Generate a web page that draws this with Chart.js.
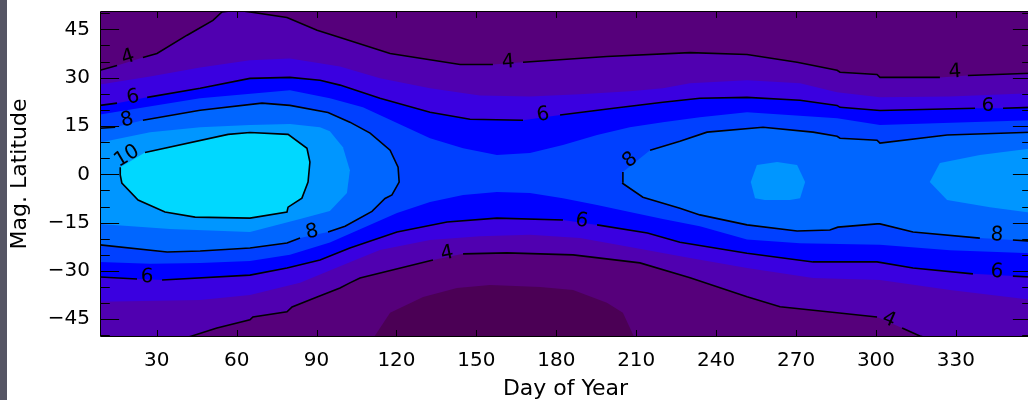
<!DOCTYPE html>
<html>
<head>
<meta charset="utf-8">
<script src="https://cdn.jsdelivr.net/npm/chart.js@4.4.1/dist/chart.umd.min.js"></script>
<style>
  html, body { margin: 0; padding: 0; background: #fff; overflow: hidden; }
  #wrap { position: absolute; left: 0; top: 0; width: 1040px; height: 400px; }
  #edge { position: absolute; left: 0; top: 0; width: 7px; height: 400px; background: #555564; }
</style>
</head>
<body>
<div id="wrap"><canvas id="chart" width="1040" height="400"></canvas></div>
<div id="edge"></div>
<script>
// Day of year vs. magnetic latitude contour map. Each band is a closed
// line shape (fill: 'shape') painted from the lowest level up; the even
// levels are stroked on top and labelled in-line like the IDL original.

// contour boundaries, as [day, mag. latitude]
const c4North = [[8.7, 32.3], [15.1, 33.8], [24.8, 36.3], [30.1, 37.5], [41.4, 43.2], [51.1, 47.8],
  [54.5, 50.4], [60, 51], [65.0, 50.4], [78.9, 48.7], [90.2, 44.7], [98.8, 42.5], [117.6, 37.5],
  [143.9, 34.1], [156.2, 34.1], [167.5, 34.8], [199.0, 36.6], [230.2, 37.8], [251.6, 37.2],
  [270.4, 34.8], [285.4, 32.3], [286.5, 31.7], [300.4, 31.0], [301.5, 30.1], [324.0, 30.1],
  [334.5, 30.7], [359, 31.4]];
const c4South = [[8.7, -51], [40, -51], [43.2, -50.2], [52.6, -47.7], [65.0, -45.2], [66.1, -44.3],
  [78.9, -42.7], [80.8, -41.2], [90.2, -38.1], [98.8, -35.3], [102.5, -33.7], [106.3, -32.2],
  [133.7, -26.6], [145.0, -24.7], [161.5, -24.4], [186.3, -25.0], [211.4, -27.5], [230.2, -32.1],
  [251.6, -38.0], [264.0, -41.1], [285.4, -43.0], [300.4, -44.3], [309.8, -47.7], [316.5, -50.2],
  [320, -51], [359, -51]];
const c5North = [[8.7, 27.9], [27.5, 30.4], [46.3, 33.2], [65.0, 35.4], [80.0, 36.0], [98.8, 33.5],
  [113.8, 29.8], [132.6, 26.7], [151.3, 24.5], [170.1, 24.2], [188.9, 24.9], [207.6, 25.8],
  [220.0, 26.7], [230.2, 28.3], [251.6, 29.2], [271.5, 28.3], [285.4, 25.5], [301.5, 23.9],
  [327.8, 24.2], [359, 25.2]];
const c5South = [[8.7, -39.6], [46.3, -39.0], [65.0, -37.5], [83.8, -33.7], [102.5, -27.3],
  [113.8, -23.5], [132.6, -20.4], [151.3, -19.2], [170.1, -18.8], [188.9, -19.8], [207.6, -22.6],
  [230.2, -26.0], [251.6, -29.1], [276.4, -32.2], [301.5, -32.8], [327.8, -35.9], [359, -39.0]];
const c6North = [[8.7, 21.4], [15.1, 22.1], [26.4, 23.9], [46.3, 26.7], [65.0, 29.8], [80.0, 30.1],
  [91.3, 29.2], [98.8, 27.7], [113.8, 23.6], [132.6, 19.3], [147.6, 17.1], [167.5, 16.8],
  [181.4, 18.4], [201.5, 20.5], [220.0, 22.4], [233.9, 23.6], [251.6, 23.9], [271.5, 23.0],
  [285.4, 21.4], [286.5, 20.8], [301.5, 19.8], [337.2, 20.5], [347.7, 20.5], [359, 20.8]];
const c6South = [[8.7, -31.9], [22.6, -32.5], [32.0, -32.8], [65.0, -31.3], [78.9, -29.1],
  [91.3, -26.6], [102.5, -22.9], [120.2, -17.9], [139.0, -14.8], [157.7, -13.6], [182.5, -14.2],
  [195.3, -15.7], [214.2, -18.2], [226.4, -21.1], [251.6, -24.5], [276.4, -27.2], [300.4, -27.2],
  [313.9, -29.1], [336.4, -30.9], [351.4, -31.6], [359, -31.9]];
const c7North = [[8.7, 18.6], [46.3, 23.6], [80.0, 26.1], [95.0, 23.6], [107.4, 20.8], [120.2, 15.9],
  [132.6, 11.2], [145.0, 8.1], [157.7, 6.0], [170.1, 6.6], [182.5, 9.1], [195.3, 12.2],
  [207.6, 14.6], [220.0, 16.2], [233.9, 17.7], [251.6, 19.3], [285.4, 17.4], [301.5, 15.3],
  [359, 16.8]];
const c7South = [[8.7, -27.2], [27.5, -27.8], [46.3, -27.5], [65.0, -26.9], [80.0, -25.0],
  [95.0, -21.2], [107.4, -16.7], [120.2, -12.0], [132.6, -8.6], [145.0, -6.4], [157.7, -5.5],
  [170.1, -5.8], [182.5, -7.4], [195.3, -9.5], [207.6, -11.7], [220.0, -13.9], [233.9, -16.1],
  [251.6, -20.2], [271.5, -21.4], [301.5, -21.9], [327.8, -23.6], [359, -24.5]];
const c8Left = [[8.7, 14.3], [14.4, 14.6], [24.8, 16.8], [46.3, 19.9], [69.5, 22.1], [80.0, 21.4],
  [94.3, 19.2], [102.5, 16.2], [110.1, 12.8], [117.6, 7.5], [120.6, 2.2], [121.0, -2.4],
  [118.3, -6.4], [115.7, -7.5], [110.8, -11.5], [100.7, -16.1], [94.3, -17.9], [83.8, -19.8],
  [78.9, -21.3], [65.0, -22.9], [46.3, -23.8], [33.9, -24.1], [8.7, -21.9]];
const c8Right = [[204.7, -2.4], [205.0, 0.7], [215.2, 7.5], [226.4, 10.3], [236.6, 13.1],
  [257.6, 14.6], [276.4, 13.1], [285.4, 11.8], [286.5, 11.2], [300.4, 10.6], [301.5, 9.7],
  [326.7, 12.2], [359, 13.1], [359, -20.8], [351.4, -20.4], [339.0, -19.8], [313.9, -17.9],
  [301.5, -15.4], [300.4, -15.4], [285.7, -16.4], [282.7, -17.3], [270.4, -17.6], [251.6, -15.7],
  [233.9, -12.6], [226.4, -10.5], [212.5, -7.1], [204.7, -2.7]];
const c9Left = [[8.7, 9.9], [27.5, 13.1], [46.3, 14.6], [65.0, 15.3], [80.0, 15.6], [91.3, 14.6],
  [95.0, 13.4], [99.9, 8.4], [102.5, 1.3], [101.4, -5.8], [95.0, -11.4], [83.8, -13.9],
  [65.0, -17.9], [35.0, -17.0], [8.7, -15.4]];
const c9Small = [[253.0, -2.4], [255.3, 2.9], [262.9, 3.8], [270.4, 2.9], [273.4, -2.4],
  [271.5, -7.4], [267.7, -8.0], [258.3, -8.0], [254.6, -7.4]];
const c9Right = [[359, 8.1], [339.0, 6.0], [324.0, 3.5], [320.2, -2.4], [326.7, -8.0],
  [342.8, -10.2], [359, -12.0]];
const c10 = [[16.3, 2.2], [25.6, 6.8], [56.8, 12.4], [65.0, 13.0], [79.3, 12.4], [86.4, 8.1],
  [87.5, 3.8], [86.8, -2.4], [84.5, -7.4], [79.3, -10.2], [78.9, -11.7], [65.0, -13.6],
  [44.4, -13.3], [33.1, -11.7], [23.0, -8.0], [16.9, -2.7], [16.3, -0.2], [16.3, 2.2]];
const dome3 = [[111.2, -51], [117.6, -43.0], [130.0, -38.1], [142.7, -35.3], [155.1, -34.4],
  [173.9, -35.0], [186.3, -35.9], [199.0, -39.9], [205.0, -43.0], [209.5, -51]];

// where the in-line level labels sit, [day, mag. latitude]
const c4NorthLabels = [[19.2, 36.3], [161.9, 34.8], [329.7, 31.7]];
const c4SouthLabels = [[139.0, -24.6], [304.9, -45.2]];
const c6NorthLabels = [[21.1, 23.9], [175.0, 18.4], [342.0, 21.4]];
const c6SouthLabels = [[26.4, -31.9], [189.6, -14.5], [345.4, -30.3]];
const c8LeftLabels = [[18.9, 16.8], [88.3, -17.9]];
const c8RightLabels = [[207.7, 4.4], [345.4, -18.9]];
const c10Labels = [[18.8, 5.6]];

const xTicks = [30, 60, 90, 120, 150, 180, 210, 240, 270, 300, 330];
const yTicks = [-45, -30, -15, 0, 15, 30, 45];
const yMinorTicks = [-50, -40, -35, -25, -20, -10, -5, 5, 10, 20, 25, 35, 40, 50];

// <3, 3-4, 4-5, 5-6, 6-7, 7-8, 8-9, 9-10, >10
const BAND_COLORS = ['#4b0055', '#56007b', '#5000b0', '#3a00e0', '#0000ff',
  '#0040ff', '#0066ff', '#0096ff', '#00d8ff'];
const FONT = '"DejaVu Sans", sans-serif';

const closed = (north, south) => north.concat(south.slice().reverse());
const regions = [
  { band: 0, path: dome3 },
  { band: 2, path: closed(c4North, c4South) },
  { band: 3, path: closed(c5North, c5South) },
  { band: 4, path: closed(c6North, c6South) },
  { band: 5, path: closed(c7North, c7South) },
  { band: 6, path: c8Left },
  { band: 6, path: c8Right },
  { band: 7, path: c9Left },
  { band: 7, path: c9Small },
  { band: 7, path: c9Right },
  { band: 8, path: c10 },
];
const contourLines = [
  { level: 4, path: c4North, labels: c4NorthLabels },
  { level: 4, path: c4South, labels: c4SouthLabels },
  { level: 6, path: c6North, labels: c6NorthLabels },
  { level: 6, path: c6South, labels: c6SouthLabels },
  { level: 8, path: c8Left, labels: c8LeftLabels },
  { level: 8, path: c8Right, labels: c8RightLabels },
  { level: 10, path: c10, labels: c10Labels },
];

const toPoints = (path) => path.map(([x, y]) => ({ x, y }));

// label position relative to a segment p0->p1 (pixels): t along, d across
function project(px, py, p0, p1) {
  const dx = p1.x - p0.x, dy = p1.y - p0.y;
  const len2 = dx * dx + dy * dy || 1;
  const lx = px - p0.x, ly = py - p0.y;
  return { t: (lx * dx + ly * dy) / len2, d: Math.abs(lx * dy - ly * dx) / Math.sqrt(len2) };
}

function inLabelGap(ctx, labels) {
  const { p0, p1, chart } = ctx;
  const { x, y } = chart.scales;
  return labels.some(([day, lat]) => {
    const r = project(x.getPixelForValue(day), y.getPixelForValue(lat), p0, p1);
    return r.t > 0 && r.t < 1 && r.d < 10;
  });
}

const total = regions.length + contourLines.length;
const datasets = [
  ...regions.map((r, i) => ({
    data: toPoints(r.path),
    fill: 'shape',
    backgroundColor: BAND_COLORS[r.band],
    borderColor: 'rgba(0,0,0,0)',
    borderWidth: 0,
    pointRadius: 0,
    order: total - i,
  })),
  ...contourLines.map((c, k) => ({
    data: toPoints(c.path),
    fill: false,
    borderColor: '#000',
    borderWidth: 1.6,
    pointRadius: 0,
    order: total - regions.length - k,
    segment: {
      borderColor: (ctx) => (inLabelGap(ctx, c.labels) ? 'rgba(0,0,0,0)' : '#000'),
    },
  })),
];

// background band, frame and the inward IDL-style ticks
const framePlugin = {
  id: 'frame',
  beforeDatasetsDraw(chart) {
    const { ctx, chartArea: a } = chart;
    ctx.save();
    ctx.fillStyle = BAND_COLORS[1];
    ctx.fillRect(a.left, a.top, a.right - a.left, a.bottom - a.top);
    ctx.restore();
  },
  afterDraw(chart) {
    const { ctx, chartArea: a, scales: { x, y } } = chart;
    const xLen = (a.bottom - a.top) * 0.02;
    const yLen = (a.right - a.left) * 0.02;
    const L = a.left + 0.5, R = a.right + 0.5, T = a.top - 0.5, B = a.bottom + 0.5;
    ctx.save();
    ctx.strokeStyle = '#000';
    ctx.lineWidth = 1;
    ctx.beginPath();
    ctx.rect(L, T, R - L, B - T);
    xTicks.forEach((v) => {
      const px = Math.round(x.getPixelForValue(v)) + 0.5;
      ctx.moveTo(px, B); ctx.lineTo(px, B - xLen);
      ctx.moveTo(px, T); ctx.lineTo(px, T + xLen);
    });
    const yTick = (v, len) => {
      const py = Math.round(y.getPixelForValue(v)) + 0.5;
      ctx.moveTo(L, py); ctx.lineTo(L + len, py);
      ctx.moveTo(R, py); ctx.lineTo(R - len, py);
    };
    yTicks.forEach((v) => yTick(v, yLen));
    yMinorTicks.forEach((v) => yTick(v, yLen / 2));
    ctx.stroke();
    ctx.restore();
  },
};

const labelPlugin = {
  id: 'contourLabels',
  afterDatasetsDraw(chart) {
    const { ctx, chartArea: a, scales: { x, y } } = chart;
    ctx.save();
    ctx.beginPath();
    ctx.rect(a.left, a.top, a.right - a.left, a.bottom - a.top);
    ctx.clip();
    ctx.font = '20px ' + FONT;
    ctx.fillStyle = '#000';
    ctx.textAlign = 'center';
    ctx.textBaseline = 'middle';
    contourLines.forEach((c, k) => {
      const pts = chart.getDatasetMeta(regions.length + k).data;
      c.labels.forEach(([day, lat]) => {
        const px = x.getPixelForValue(day), py = y.getPixelForValue(lat);
        // follow the direction of the nearest stretch of line
        let best = Infinity, ang = 0;
        for (let i = 0; i < pts.length - 1; i++) {
          const r = project(px, py, pts[i], pts[i + 1]);
          const d = r.t < 0 || r.t > 1 ? r.d + 50 : r.d;
          if (d < best) {
            best = d;
            ang = Math.atan2(pts[i + 1].y - pts[i].y, pts[i + 1].x - pts[i].x);
          }
        }
        if (ang > Math.PI / 2) ang -= Math.PI;
        if (ang < -Math.PI / 2) ang += Math.PI;
        ctx.save();
        ctx.translate(px, py);
        ctx.rotate(ang);
        ctx.fillText(String(c.level), 0, 0);
        ctx.restore();
      });
    });
    ctx.restore();
  },
};

const tickFont = { family: FONT, size: 20, lineHeight: 1 };
const titleFont = { family: FONT, size: 22, lineHeight: 1 };

new Chart(document.getElementById('chart'), {
  type: 'line',
  data: { datasets },
  options: {
    responsive: false,
    devicePixelRatio: 1,
    animation: false,
    events: [],
    layout: { padding: { top: 12, right: 9, bottom: 0, left: 0 } },
    plugins: { legend: { display: false }, tooltip: { enabled: false } },
    scales: {
      x: {
        type: 'linear',
        min: 8.7,
        max: 358.2,
        grid: { display: false, drawTicks: false },
        border: { display: false },
        afterBuildTicks: (s) => { s.ticks = xTicks.map((v) => ({ value: v })); },
        afterFit: (s) => { s.height = 64; s.paddingLeft = 0; s.paddingRight = 0; },
        ticks: { font: tickFont, color: '#000', padding: 15, maxRotation: 0, autoSkip: false },
        title: { display: true, text: 'Day of Year', font: titleFont, color: '#000', padding: 0 },
      },
      y: {
        type: 'linear',
        min: -50.2,
        max: 50.4,
        grid: { display: false, drawTicks: false },
        border: { display: false },
        afterBuildTicks: (s) => { s.ticks = yTicks.map((v) => ({ value: v })); },
        afterFit: (s) => { s.width = 100; s.paddingTop = 0; s.paddingBottom = 0; },
        ticks: {
          font: tickFont,
          color: '#000',
          padding: 10,
          autoSkip: false,
          callback: (v) => (v < 0 ? '\u2212' + Math.abs(v) : String(v)),
        },
        title: { display: true, text: 'Mag. Latitude', font: titleFont, color: '#000', padding: { top: 9, bottom: 0 } },
      },
    },
  },
  plugins: [framePlugin, labelPlugin],
});
</script>
</body>
</html>
